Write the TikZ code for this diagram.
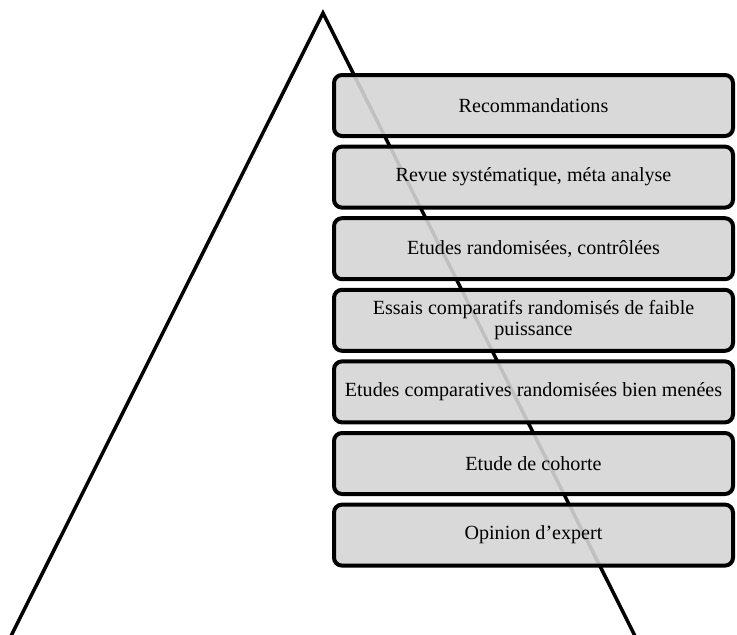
\documentclass[tikz,border=0pt]{standalone}
\usepackage{fontspec}
\setmainfont{Liberation Serif}
\usepackage{tikz}
\usepackage{xcolor}
\definecolor{boxgr}{RGB}{213, 213, 213}

\begin{document}
\begin{tikzpicture}[x=1pt, y=-1pt,
        level/.style={draw=black, line width=4pt, rounded corners=8pt, fill=boxgr, fill opacity=0.9, text opacity=1, minimum width=399pt, minimum height=61pt, inner sep=0pt, align=center, font=\fontsize{20.1}{21}\selectfont},
        side/.style={line width=3.5pt, line join=miter}]
        \useasboundingbox (0,0) rectangle (737,635);
        \coordinate (apex) at (323,13);
        \coordinate (baseL) at (11,636);
        \coordinate (baseR) at (635,636);
        \draw[side] (baseL) -- (apex) -- (baseR);
        \node[level] (reco) at (533.5,105.5) {Recommandations};
        \node[level] (revue) at (533.5,177.1) {Revue systématique, méta analyse};
        \node[level] (etudesrand) at (533.5,248.7) {Etudes randomisées, contrôlées};
        \node[level] (essais) at (533.5,320.3) {Essais comparatifs randomisés de faible\\puissance};
        \node[level] (compar) at (533.5,391.9) {Etudes comparatives randomisées bien menées};
        \node[level] (cohorte) at (533.5,463.5) {Etude de cohorte};
        \node[level] (expert) at (533.5,535.1) {Opinion d’expert};
    \end{tikzpicture}
\end{document}
